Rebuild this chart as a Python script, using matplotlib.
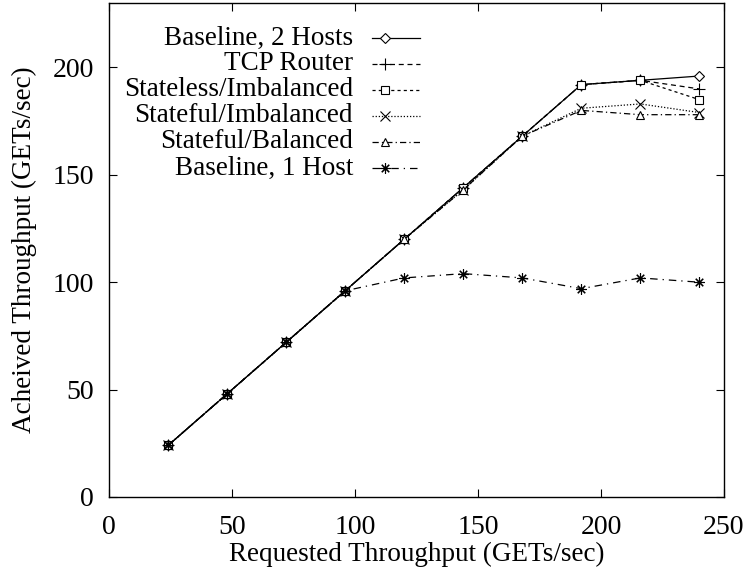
import matplotlib
matplotlib.use("Agg")
import matplotlib.pyplot as plt
from matplotlib.lines import Line2D

plt.rcParams['font.family'] = ['Liberation Serif', 'DejaVu Serif']

requested = [24, 48, 72, 96, 120, 144, 168, 192, 216, 240]
baseline2 = [24, 48, 72, 96, 120, 144, 168, 192, 194, 196]
tcp_router = [24, 48, 72, 96, 120, 144, 168, 192, 194, 190]
stateless_imb = [24, 48, 72, 96, 120, 144, 168, 192, 194, 185]
stateful_imb = [24, 48, 72, 96, 120, 143, 168, 181, 183, 179]
stateful_bal = [24, 48, 72, 96, 120, 143, 168, 180, 178, 178]
baseline1 = [24, 48, 72, 96, 102, 104, 102, 97, 102, 100]

series_labels = ["Baseline, 2 Hosts", "TCP Router", "Stateless/Imbalanced",
                 "Stateful/Imbalanced", "Stateful/Balanced", "Baseline, 1 Host"]
xticks = [0, 50, 100, 150, 200, 250]
yticks = [0, 50, 100, 150, 200]

W, H = 746, 567
fig = plt.figure(figsize=(W/100, H/100), dpi=100)
ax = fig.add_axes([109/W, 1-497/H, (724-109)/W, (497-3)/H])

styles = [
    dict(linestyle='-', marker='D', ms=5),
    dict(linestyle=(0, (4, 3)), marker='+', ms=8),
    dict(linestyle=(0, (2.5, 2.5)), marker='s', ms=5.5),
    dict(linestyle=(0, (1, 1.5)), marker='x', ms=6.5),
    dict(linestyle=(0, (5, 2.5, 1, 2.5)), marker='^', ms=6),
    dict(linestyle=(0, (6, 4, 1, 4)), marker=(8, 2, 0), ms=7.5),
]
data = [baseline2, tcp_router, stateless_imb, stateful_imb, stateful_bal, baseline1]

for ys, lab, st in zip(data, series_labels, styles):
    ax.plot(requested, ys, color='black', lw=0.9, mfc='white', mec='black',
            mew=0.8, label=lab, **st)

ax.set_xlim(0, 250)
ax.set_ylim(0, 230)
ax.set_xticks(xticks)
ax.set_yticks(yticks)
ax.tick_params(direction='in', top=True, right=True, labelsize=20, length=6,
               width=0.8)
ax.tick_params(axis='x', pad=13)
ax.tick_params(axis='y', pad=11)
for s in ax.spines.values():
    s.set_linewidth(1.0)

ax.set_xlabel("Requested Throughput (GETs/sec)", fontsize=19.5, labelpad=1)
ax.set_ylabel("Acheived Throughput (GETs/sec)", fontsize=19.5, labelpad=11)

# Key (gnuplot style: right-aligned text, sample line to the right)
tf = fig.transFigure
text_right = 353
line_x0, line_x1, mark_x = 372, 420, 385
row0, row_step = 38, 26
for i, (lab, st) in enumerate(zip(series_labels, styles)):
    yp = row0 + i * row_step
    yf = 1 - yp / H
    fig.text(text_right / W, yf, lab, ha='right', va='center', fontsize=19.5)
    fig.add_artist(Line2D([line_x0 / W, line_x1 / W], [yf, yf], transform=tf,
                          color='black', lw=0.9, linestyle=st['linestyle']))
    fig.add_artist(Line2D([mark_x / W], [yf], transform=tf, color='black',
                          linestyle='none', marker=st['marker'], ms=st['ms'],
                          mfc='white', mec='black', mew=0.8))

fig.savefig("out.png", dpi=100)
